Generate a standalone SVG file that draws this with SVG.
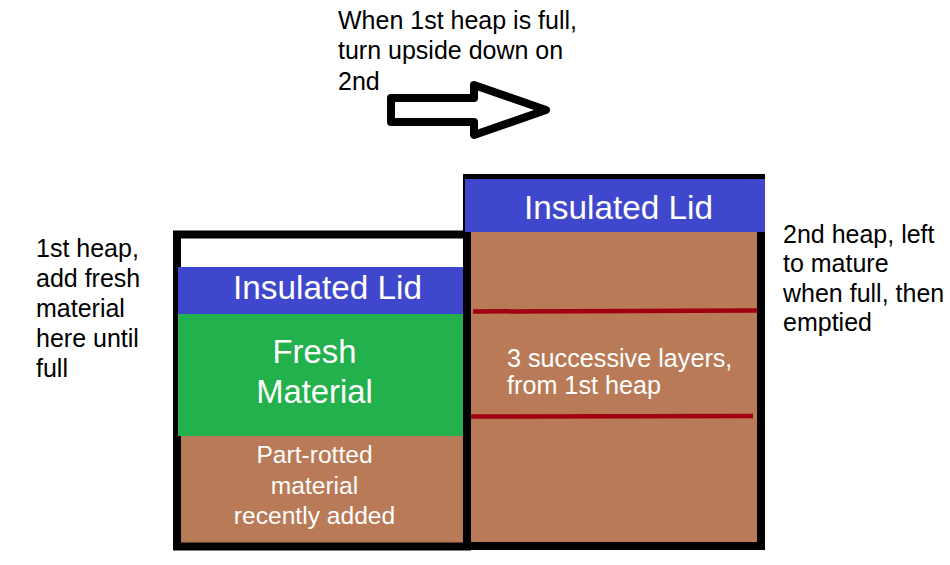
<svg xmlns="http://www.w3.org/2000/svg" width="950" height="565" viewBox="0 0 950 565">
<style>
text{font-family:"Liberation Sans",Arial,sans-serif;}
.blk{fill:#000;font-size:25px;}
.wt{fill:#fff;}
.lid{fill:#3f48cc;}
.brown{fill:#b97a57;}
.green{fill:#22b14c;}
.outline{fill:none;stroke:#000;stroke-width:8;}
.layer{stroke:#a00010;stroke-width:4.5;}
</style>
<rect width="950" height="565" fill="#fff"/>
<g id="note-top">
<text class="blk" x="338" y="29">When 1st heap is full,</text>
<text class="blk" x="338" y="59">turn upside down on</text>
<text class="blk" x="338" y="90">2nd</text>
</g>
<g id="connectors">
<polygon points="391,98 474,98 474,85 546,110 474,135 474,122 391,122" fill="#fff" stroke="#000" stroke-width="8" stroke-linejoin="round"/>
</g>
<g id="note-left">
<text class="blk" x="36" y="257">1st heap,</text>
<text class="blk" x="36" y="287">add fresh</text>
<text class="blk" x="36" y="317">material</text>
<text class="blk" x="36" y="347">here until</text>
<text class="blk" x="36" y="377">full</text>
</g>
<g id="note-right">
<text class="blk" x="783" y="243">2nd heap, left</text>
<text class="blk" x="783" y="272">to mature</text>
<text class="blk" x="783" y="302">when full, then</text>
<text class="blk" x="783" y="331">emptied</text>
</g>
<g id="heap1">
<rect class="brown" x="180" y="436" width="286" height="108"/>
<rect class="outline" x="177" y="234.5" width="290" height="312"/>
<rect class="green" x="178" y="314" width="288" height="122"/>
<rect class="lid" x="178" y="267" width="289" height="47"/>
<text class="wt" x="327.5" y="299" font-size="33.3" text-anchor="middle">Insulated Lid</text>
<text class="wt" x="314.5" y="363" font-size="32.8" text-anchor="middle">Fresh</text>
<text class="wt" x="314.5" y="403" font-size="32.8" text-anchor="middle">Material</text>
<text class="wt" x="314.5" y="463" font-size="24.6" text-anchor="middle">Part-rotted</text>
<text class="wt" x="314.5" y="494" font-size="24.6" text-anchor="middle">material</text>
<text class="wt" x="314.5" y="524" font-size="24.6" text-anchor="middle">recently added</text>
</g>
<g id="heap2">
<rect class="brown" x="470" y="230" width="288" height="313"/>
<rect class="outline" x="467" y="178" width="294" height="368"/>
<rect class="lid" x="465" y="179" width="300" height="53"/>
<text class="wt" x="618.5" y="219" font-size="33.3" text-anchor="middle">Insulated Lid</text>
<line class="layer" x1="473" y1="311.5" x2="757" y2="310.5"/>
<line class="layer" x1="471" y1="416.5" x2="753" y2="416"/>
<text class="wt" x="507" y="367" font-size="25.2">3 successive layers,</text>
<text class="wt" x="507" y="394" font-size="25.2">from 1st heap</text>
</g>
</svg>
